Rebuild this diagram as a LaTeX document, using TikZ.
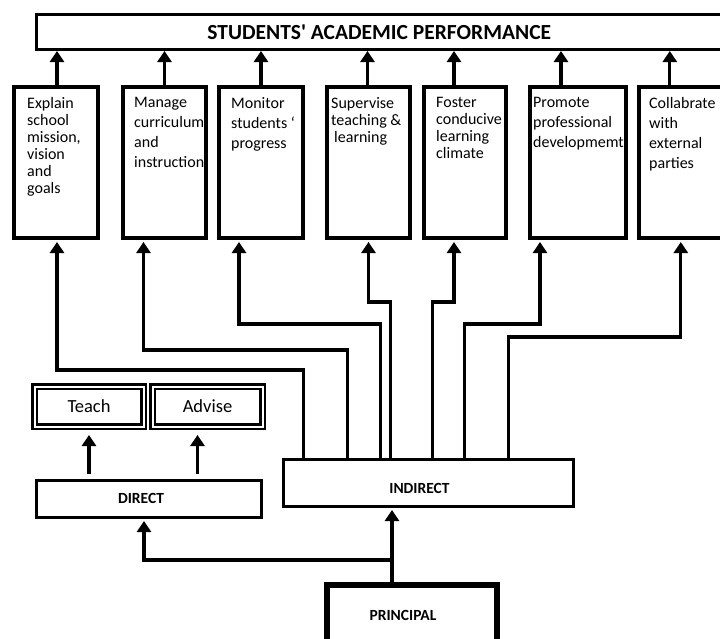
\documentclass[tikz,border=0pt]{standalone}
\usepackage{fontspec}
\setmainfont{Carlito}
\usetikzlibrary{arrows.meta,positioning}
\newcommand{\gfont}[1]{\fontsize{16}{#1}\selectfont}

\begin{document}
\begin{tikzpicture}[x=1pt, y=-1pt,
  perfbox/.style={draw, line width=2.6pt, minimum width=686pt, minimum height=35.4pt, font=\fontsize{21.5}{24}\selectfont\bfseries},
  goal/.style={draw, line width=3.6pt, minimum height=151.4pt, anchor=north west},
  txt/.style={align=left, inner sep=0pt, anchor=north west},
  dbox/.style={draw, double, line width=2.5pt, double distance=2pt, outer sep=3.5pt, minimum width=109pt, minimum height=40pt, font=\fontsize{18.5}{22}\selectfont},
  lvl/.style={draw, line width=3.4pt, anchor=north west, font=\fontsize{15.5}{18}\selectfont\bfseries},
  lvltxt/.style={font=\fontsize{15.5}{18}\selectfont\bfseries},
  arr/.style={-{Triangle[width=14pt,length=11pt]}, line width=3.3pt},
  gap/.style={shorten <=5pt, shorten >=5pt}
]
\useasboundingbox (0,0) rectangle (720,638);

% top
\node[perfbox] (perf) at (379.3,32) {STUDENTS\textquotesingle{} ACADEMIC PERFORMANCE};

% the seven roles
\node[goal, minimum width=84.4pt] (g1) at (12,85) {};
\node[goal, minimum width=83.4pt, right=21pt of g1] (g2) {};
\node[goal, minimum width=84.4pt, right=9pt of g2] (g3) {};
\node[goal, minimum width=83.4pt, right=20pt of g3] (g4) {};
\node[goal, minimum width=82.4pt, right=10pt of g4] (g5) {};
\node[goal, minimum width=96.4pt, right=20pt of g5] (g6) {};
\node[goal, minimum width=86pt, right=9pt of g6] (g7) {};

\node[txt, font=\gfont{17}, below right=12pt and 15pt of g1.north west] (t1) {Explain\\school\\mission,\\vision\\and\\goals};
\node[txt, font=\gfont{20}, below right=12pt and 13pt of g2.north west] (t2) {Manage\\curriculum\\and\\instruction};
\node[txt, font=\gfont{20}, below right=12pt and 14pt of g3.north west] (t3) {Monitor\\students ‘\\progress};
\node[txt, font=\gfont{17}, below right=12pt and 6pt of g4.north west] (t4) {Supervise\\teaching \&\\\hspace*{3pt}learning};
\node[txt, font=\gfont{17}, below right=12pt and 14pt of g5.north west] (t5) {Foster\\conducive\\learning\\climate};
\node[txt, font=\gfont{20}, below right=12pt and 5pt of g6.north west] (t6) {Promote\\professional\\developmemt};
\node[txt, font=\gfont{20}, below right=12pt and 12pt of g7.north west] (t7) {Collabrate\\with\\external\\parties};

% lower part
\node[dbox, anchor=north west] (teach) at (31,383) {Teach};
\node[dbox, minimum width=110pt, right=2pt of teach] (advise) {Advise};
\node[lvl, minimum width=224.6pt, minimum height=36.6pt] (dir) at (35,479) {};
\node[lvl, minimum width=289.6pt, minimum height=46.6pt] (ind) at (282,458) {};
\node[lvl, line width=6pt, minimum width=170pt, minimum height=60pt] (princ) at (324,582) {};
\node[lvltxt] (dirtxt) at ([xshift=-8pt,yshift=1pt]dir.center) {DIRECT};
\node[lvltxt] (indtxt) at ([xshift=-9pt,yshift=-5pt]ind.center) {INDIRECT};
\node[lvltxt] (printxt) at ([xshift=-9pt]princ.center) {PRINCIPAL};

% roles -> performance
\foreach \g/\dx in {g1/1, g2/0, g3/0, g4/-1, g5/-11, g6/-17, g7/-12}
  \draw[arr] ([xshift=\dx pt]\g.north) coordinate (s) -- (s |- perf.south);

% indirect -> roles
\foreach \g/\lane/\up/\dx in {g1/-125/88/1, g2/-81/108/-21, g3/-48/134/-22, g4/-38/156/0, g5/4/156/-11, g6/36/134/-38, g7/80/121/-1}
  \draw[arr, shorten >=2pt] ([xshift=\lane pt]ind.north) -- ++(0,-\up) -| ([xshift=\dx pt]\g.south);

% principal
\draw[arr, shorten >=2pt] ([xshift=-20pt]princ.north) coordinate (p) -- (p |- ind.south);
\draw[arr, shorten >=2pt] (p) -- ++(0,-22) -| ([xshift=-5pt]dir.south);

% direct -> teach, advise
\path ([xshift=-10pt]advise.south) coordinate (q);
\draw[arr, gap] (teach.south |- dir.north) -- (teach.south);
\draw[arr, gap] (q |- dir.north) -- (q);
\end{tikzpicture}
\end{document}
